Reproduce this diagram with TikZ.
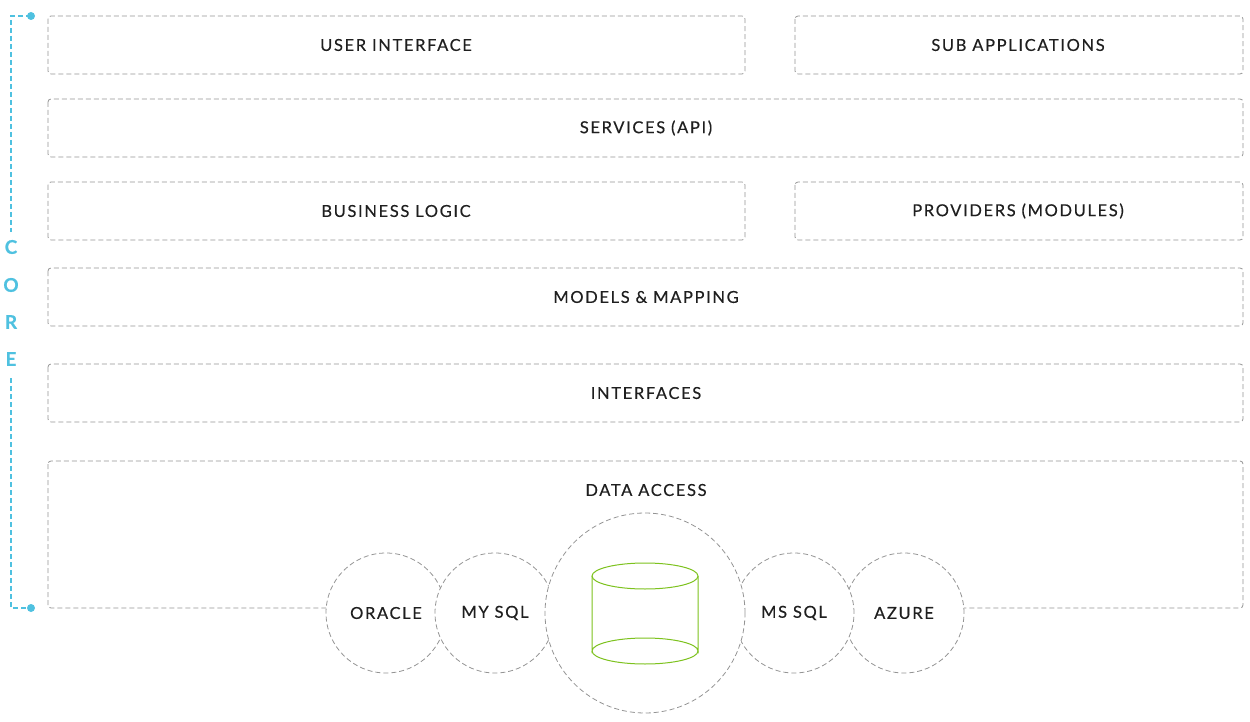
\documentclass[tikz,border=0pt]{standalone}
\usepackage{fontspec}
\setmainfont{Lato}[LetterSpace=10,FakeBold=0.4]
\begin{document}
\begin{tikzpicture}[x=1pt,y=-1pt,
  box/.style={draw=black!42,dash pattern=on 5pt off 3pt,rounded corners=3pt,line width=0.8pt},
  lbl/.style={font=\fontsize{16.5}{18}\selectfont,text=black!88},
  circ/.style={circle,draw=black!42,dash pattern=on 5pt off 3pt,fill=white,line width=0.8pt,font=\fontsize{16.5}{18}\selectfont,text=black!88},
  corec/.style={font=\fontsize{19}{20}\selectfont\bfseries,text=cblue}]
\definecolor{cblue}{HTML}{4FC1E0}
\definecolor{cgreen}{HTML}{7DC21E}
\useasboundingbox (0,0) rectangle (1250,722);
\draw[box] (48,16) rectangle (745,74); \node[lbl] (ui) at (396,45) {USER INTERFACE};
\draw[box] (795,16) rectangle (1243,74); \node[lbl] (sub) at (1018,45) {SUB APPLICATIONS};
\draw[box] (48,99) rectangle (1243,157); \node[lbl] (svc) at (646,128) {SERVICES (API)};
\draw[box] (48,182) rectangle (745,240); \node[lbl] (bl) at (396,211) {BUSINESS LOGIC};
\draw[box] (795,182) rectangle (1243,240); \node[lbl] (prov) at (1018,211) {PROVIDERS (MODULES)};
\draw[box] (48,268) rectangle (1243,326); \node[lbl] (mm) at (646,297) {MODELS \& MAPPING};
\draw[box] (48,364) rectangle (1243,422); \node[lbl] (int) at (646,393) {INTERFACES};
\draw[box] (48,461) rectangle (1243,608); \node[lbl] (da) at (646,490) {DATA ACCESS};
\node[circ,minimum size=120pt] (ora) at (386,613) {ORACLE};
\node[circ,minimum size=120pt] (mys) at (495,613) {MY SQL};
\node[circ,minimum size=120pt] (azu) at (904,613) {AZURE};
\node[circ,minimum size=120pt] (mss) at (794,613) {MS SQL};
\node[circ,minimum size=200pt] (db) at (645,613) {};
\draw[cgreen,line width=1pt,fill=white] (592,576) -- (592,651) arc[start angle=180,end angle=360,x radius=53,y radius=13] -- (698,576);
\draw[cgreen,line width=1pt] (592,651) arc[start angle=180,end angle=0,x radius=53,y radius=13];
\draw[cgreen,line width=1pt,fill=white] (645,576) ellipse[x radius=53,y radius=13];
\draw[cblue,line width=1.5pt,dash pattern=on 5pt off 3pt] (31,16) -- (11,16) -- (11,232);
\draw[cblue,line width=1.5pt,dash pattern=on 5pt off 3pt] (11,378) -- (11,608) -- (31,608);
\fill[cblue] (31,16) circle (4pt) (31,608) circle (4pt);
\node[corec] (c) at (11,247) {C};
\node[corec] (o) at (11,285) {O};
\node[corec] (r) at (11,322) {R};
\node[corec] (e) at (11,359) {E};
\end{tikzpicture}
\end{document}
